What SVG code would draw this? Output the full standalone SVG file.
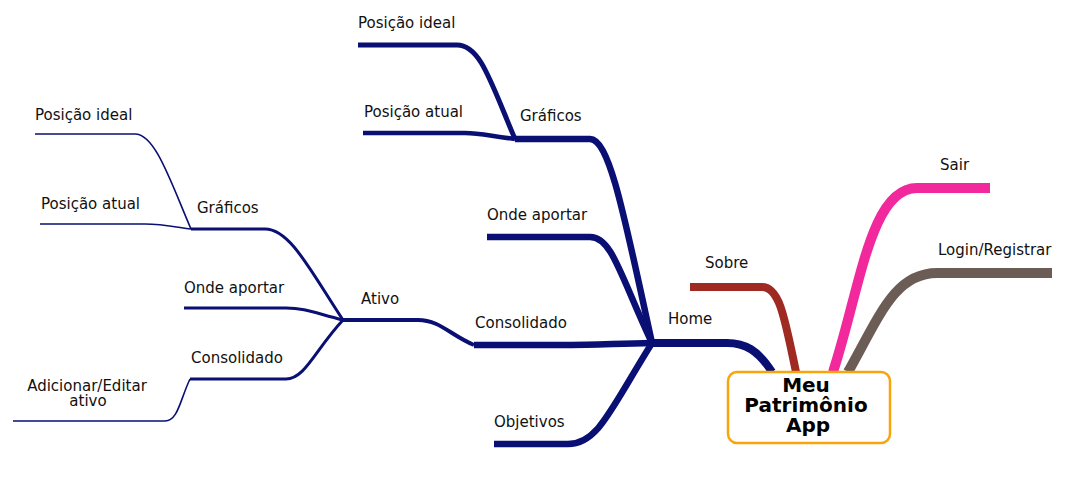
<svg xmlns="http://www.w3.org/2000/svg" width="1073" height="499" viewBox="0 0 1073 499">
<style>
.c{fill:none;stroke-linecap:butt;stroke-linejoin:round}
.n{stroke:#0a0f73}
.t{font-family:"DejaVu Sans",sans-serif;font-size:15px;fill:#111}
.b{font-family:"DejaVu Sans",sans-serif;font-size:20px;font-weight:bold;fill:#000;text-anchor:middle}
</style>
<rect width="1073" height="499" fill="#fff"/>
<g id="connectors">
<path class="c" stroke="#6b5d55" stroke-width="10" d="M848,372 C880,315 895,273 937,273 L1052,273"/>
<path class="c" stroke="#f2299c" stroke-width="10" d="M833,372 C860,290 870,188 917,188 L990,188"/>
<path class="c" stroke="#9e2a22" stroke-width="8" d="M796,372 C785,320 780,287 762,287 L690,287"/>
<path class="c n" stroke-width="8" d="M772,372 C758,350 745,343 727,343 L652,343"/>
<path class="c n" stroke-width="6.5" d="M652,343 C625,220 610,139 590,139 L515,139"/>
<path class="c n" stroke-width="6.5" d="M652,343 C620,275 612,237 590,237 L487,237"/>
<path class="c n" stroke-width="6.5" d="M652,343 C610,344 590,345 568,345 L474,345"/>
<path class="c n" stroke-width="6.5" d="M652,343 C610,410 598,444 568,444 L494,444"/>
<path class="c n" stroke-width="5" d="M515,139 C490,80 480,45 457,45 L358,45"/>
<path class="c n" stroke-width="4.5" d="M515,139 C490,136 480,133 465,133 L363,133"/>
<path class="c n" stroke-width="4" d="M474,345 C450,335 440,320 418,320 L343,320"/>
<path class="c n" stroke-width="3" d="M343,320 C310,270 290,229 265,229 L191,229"/>
<path class="c n" stroke-width="3" d="M343,320 C315,313 305,308 286,308 L184,308"/>
<path class="c n" stroke-width="3" d="M343,320 C315,350 305,379 286,379 L190,379"/>
<path class="c n" stroke-width="1.6" d="M191,229 C170,180 155,134 135,134 L35,134"/>
<path class="c n" stroke-width="1.6" d="M191,229 C170,226 160,224 145,224 L40,224"/>
<path class="c n" stroke-width="1.6" d="M190,379 C180,400 178,421 165,421 L13,421"/>
</g>
<g id="root">
<rect x="728" y="372" width="162" height="71" rx="9" fill="#fff" stroke="#f7a50a" stroke-width="2.5"/>
<text class="b" x="806" y="392">Meu</text>
<text class="b" x="806" y="412">Patrimônio</text>
<text class="b" x="808" y="432">App</text>
</g>
<g id="home"><text class="t" x="668" y="324">Home</text></g>
<g id="sobre"><text class="t" x="705" y="268">Sobre</text></g>
<g id="sair"><text class="t" x="940" y="170">Sair</text></g>
<g id="login"><text class="t" x="938" y="255">Login/Registrar</text></g>
<g id="graficos"><text class="t" x="520" y="121">Gráficos</text></g>
<g id="onde-aportar"><text class="t" x="487" y="220">Onde aportar</text></g>
<g id="consolidado"><text class="t" x="475" y="328">Consolidado</text></g>
<g id="objetivos"><text class="t" x="494" y="427">Objetivos</text></g>
<g id="posicao-ideal"><text class="t" x="358" y="28">Posição ideal</text></g>
<g id="posicao-atual"><text class="t" x="364" y="117">Posição atual</text></g>
<g id="ativo"><text class="t" x="361" y="304">Ativo</text></g>
<g id="ativo-graficos"><text class="t" x="197" y="213">Gráficos</text></g>
<g id="ativo-onde-aportar"><text class="t" x="184" y="293">Onde aportar</text></g>
<g id="ativo-consolidado"><text class="t" x="191" y="363">Consolidado</text></g>
<g id="ativo-posicao-ideal"><text class="t" x="35" y="120">Posição ideal</text></g>
<g id="ativo-posicao-atual"><text class="t" x="41" y="209">Posição atual</text></g>
<g id="adicionar"><text class="t" x="87" y="391" text-anchor="middle">Adicionar/Editar</text><text class="t" x="88" y="406" text-anchor="middle">ativo</text></g>
</svg>
